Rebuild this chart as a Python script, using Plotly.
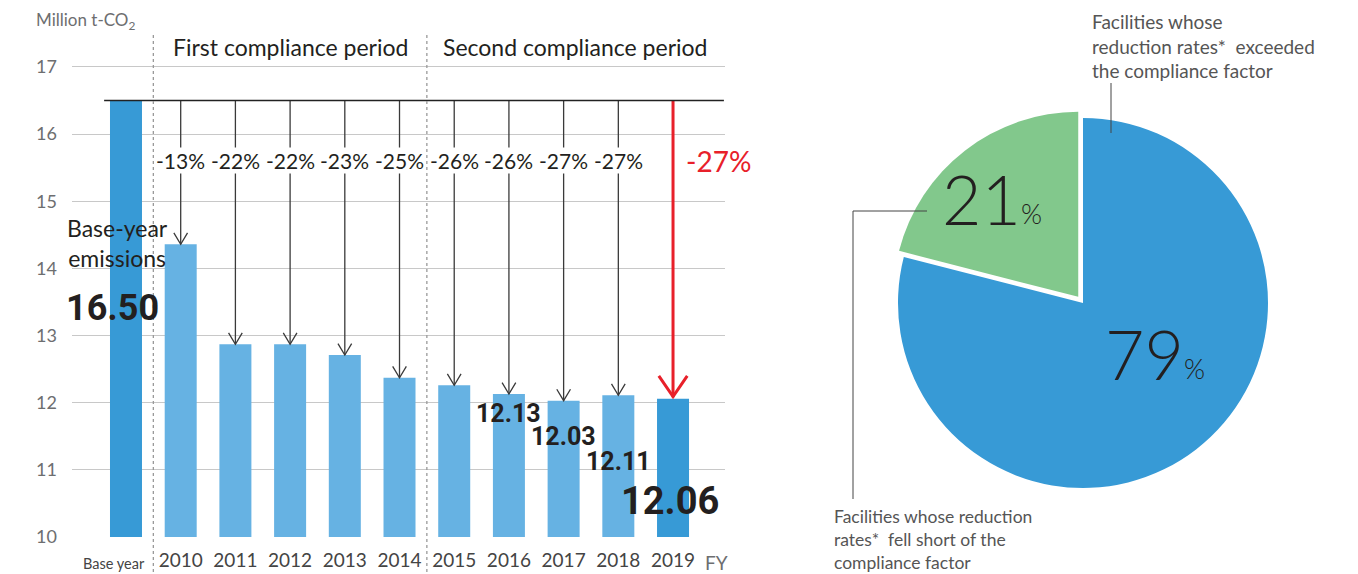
import plotly.graph_objects as go

# ---------------- data ----------------
categories = ["Base year", "2010", "2011", "2012", "2013", "2014",
              "2015", "2016", "2017", "2018", "2019"]
emissions = [16.50, 14.36, 12.87, 12.87, 12.71, 12.37,
             12.26, 12.13, 12.03, 12.11, 12.06]
reductions = ["-13%", "-22%", "-22%", "-23%", "-25%",
              "-26%", "-26%", "-27%", "-27%", "-27%"]
y_ticks = [10, 11, 12, 13, 14, 15, 16, 17]
labelled_values = {7: "12.13", 8: "12.03", 9: "12.11"}

pie_labels = ["Facilities whose reduction rates* exceeded the compliance factor",
              "Facilities whose reduction rates* fell short of the compliance factor"]
pie_values = [79, 21]

# ---------------- style ----------------
W, H = 1358, 574
DARK_BLUE = "#379ad6"
LIGHT_BLUE = "#66b2e3"
GREEN = "#82c88c"
RED = "#e8202a"
INK = "#231f20"
GRAY = "#6d6e70"
FONT = "Lato"

def px_x(p):
    return p / W

def px_y(p):
    return 1 - p / H

x_idx = list(range(len(categories)))
bar_colors = [DARK_BLUE if i in (0, len(categories) - 1) else LIGHT_BLUE for i in x_idx]

fig = go.Figure()

fig.add_trace(go.Bar(
    x=x_idx, y=[v - 10 for v in emissions], base=10, width=0.585,
    marker=dict(color=bar_colors, line=dict(width=0)),
    hoverinfo="skip", showlegend=False,
))

# arrows from base-year level down to each bar (2010-2018)
base = emissions[0]
ax, ay = [], []
dx, dy = 0.125, 0.17
for i in range(1, len(categories) - 1):
    v = emissions[i]
    ax += [i, i, None, i - dx, i, i + dx, None]
    ay += [base, v, None, v + dy, v, v + dy, None]
fig.add_trace(go.Scatter(x=ax, y=ay, mode="lines",
                         line=dict(color="#3a3a3a", width=1.3),
                         hoverinfo="skip", showlegend=False))

# red arrow for 2019
last = len(categories) - 1
v = emissions[last]
rdx, rdy = 0.26, 0.34
fig.add_trace(go.Scatter(
    x=[last, last, None, last - rdx, last, last + rdx],
    y=[base, v + 0.02, None, v + rdy, v + 0.03, v + rdy],
    mode="lines", line=dict(color=RED, width=3),
    hoverinfo="skip", showlegend=False))

# pie
pie_r = 185
pull = 0.042
half = pie_r * (1 + pull)
cx, cy = 1083, 303
fig.add_trace(go.Pie(
    labels=pie_labels, values=pie_values, sort=False, direction="clockwise",
    rotation=0, pull=[0, pull], textinfo="none", hoverinfo="label+percent",
    marker=dict(colors=[DARK_BLUE, GREEN], line=dict(width=0)),
    domain=dict(x=[px_x(cx - half), px_x(cx + half)],
                y=[px_y(cy + half), px_y(cy - half)]),
    showlegend=False,
))

annotations = []
# percentage reduction labels
for i, r in enumerate(reductions[:-1], start=1):
    annotations.append(dict(x=i, y=15.6, xref="x", yref="y", text=r, showarrow=False,
                            font=dict(family=FONT, size=21, color=INK),
                            bgcolor="white", borderpad=0))
annotations.append(dict(x=last + 0.2, y=15.6, xref="x", yref="y", text=reductions[-1],
                        showarrow=False, xanchor="left",
                        font=dict(family=FONT, size=28, color=RED)))

# base year labels
annotations.append(dict(x=-0.16, y=14.38, xref="x", yref="y",
                        text="Base-year<br>emissions", showarrow=False,
                        font=dict(family=FONT, size=23, color=INK)))
annotations.append(dict(x=-0.24, y=13.41, xref="x", yref="y",
                        text="<b>%.2f</b>" % emissions[0], showarrow=False,
                        font=dict(family="Roboto", size=36, color=INK)))
# value labels
label_y = {7: 11.84, 8: 11.49, 9: 11.12}
for i, t in labelled_values.items():
    annotations.append(dict(x=i, y=label_y[i], xref="x", yref="y", text="<b>%s</b>" % t,
                            showarrow=False,
                            font=dict(family="Roboto", size=25, color=INK)))
annotations.append(dict(x=last - 0.06, y=10.53, xref="x", yref="y",
                        text="<b>%.2f</b>" % emissions[last], showarrow=False,
                        font=dict(family="Roboto", size=38, color=INK)))

# period titles
annotations.append(dict(x=3.0, y=px_y(47), xref="x", yref="paper",
                        xanchor="center", yanchor="middle",
                        text="First compliance period", showarrow=False,
                        font=dict(family=FONT, size=23, color=INK)))
annotations.append(dict(x=8.2, y=px_y(47), xref="x", yref="paper",
                        xanchor="center", yanchor="middle",
                        text="Second compliance period", showarrow=False,
                        font=dict(family=FONT, size=23, color=INK)))
# unit
annotations.append(dict(x=px_x(34), y=px_y(21), xref="paper", yref="paper",
                        xanchor="left", yanchor="middle",
                        text="Million t-CO<sub>2</sub>", showarrow=False,
                        font=dict(family=FONT, size=17, color=GRAY)))
# "Base year" category label (smaller, sits left of the bar centre)
annotations.append(dict(x=px_x(114), y=px_y(563), xref="paper", yref="paper",
                        xanchor="center", yanchor="middle",
                        text=categories[0], showarrow=False,
                        font=dict(family=FONT, size=14.5, color="#444444")))
# FY
annotations.append(dict(x=px_x(716), y=px_y(562), xref="paper", yref="paper",
                        xanchor="center", yanchor="middle",
                        text="FY", showarrow=False,
                        font=dict(family=FONT, size=19, color=GRAY)))

# pie percentage labels (number and % sign as separate texts)
big = dict(family=FONT, size=68, color=INK, weight=300)
small = dict(family=FONT, size=27, color=INK, weight=300)
for num, right_x, base_y in (("%d" % pie_values[0], 1185, 380),
                             ("%d" % pie_values[1], 1022, 225)):
    annotations.append(dict(x=px_x(right_x), y=px_y(base_y + 15), xref="paper", yref="paper",
                            xanchor="right", yanchor="bottom", text=num, showarrow=False,
                            font=big, borderpad=0))
    annotations.append(dict(x=px_x(right_x - 2), y=px_y(base_y + 6), xref="paper", yref="paper",
                            xanchor="left", yanchor="bottom", text="%", showarrow=False,
                            font=small, borderpad=0))

annotations.append(dict(x=px_x(1090), y=px_y(8), xref="paper", yref="paper",
                        xanchor="left", yanchor="top", align="left",
                        text="Facilities whose<br>reduction rates*  exceeded<br>the compliance factor",
                        showarrow=False, font=dict(family=FONT, size=19, color="#555555")))
annotations.append(dict(x=px_x(832), y=px_y(504), xref="paper", yref="paper",
                        xanchor="left", yanchor="top", align="left",
                        text="Facilities whose reduction<br>rates*  fell short of the<br>compliance factor",
                        showarrow=False, font=dict(family=FONT, size=17.5, color="#555555")))

shapes = [
    # base-year level line
    dict(type="line", xref="x", yref="y", x0=-0.4, x1=10.93, y0=base, y1=base,
         line=dict(color="#222222", width=1.3)),
    # period dividers
    dict(type="line", xref="x", yref="paper", x0=0.5, x1=0.5, y0=px_y(572), y1=px_y(35),
         line=dict(color="#9a9a9a", width=1.3, dash="3px,3px")),
    dict(type="line", xref="x", yref="paper", x0=5.5, x1=5.5, y0=px_y(572), y1=px_y(35),
         line=dict(color="#9a9a9a", width=1.3, dash="3px,3px")),
    # pie callouts
    dict(type="line", xref="paper", yref="paper", x0=px_x(1111), x1=px_x(1111),
         y0=px_y(83), y1=px_y(133), line=dict(color="#444444", width=1)),
    dict(type="line", xref="paper", yref="paper", x0=px_x(853), x1=px_x(927),
         y0=px_y(211), y1=px_y(211), line=dict(color="#444444", width=1)),
    dict(type="line", xref="paper", yref="paper", x0=px_x(853), x1=px_x(853),
         y0=px_y(211), y1=px_y(499), line=dict(color="#444444", width=1)),
]

tick_text = [""] + categories[1:]

fig.update_layout(
    template="none",
    width=W, height=H, autosize=False,
    margin=dict(l=0, r=0, t=0, b=0, pad=0),
    paper_bgcolor="white", plot_bgcolor="white",
    font=dict(family=FONT, color=INK),
    bargap=0.4,
    xaxis=dict(domain=[px_x(72), px_x(725)], range=[-0.987, 10.95], automargin=False,
               tickvals=x_idx, ticktext=tick_text, showgrid=False, zeroline=False,
               showline=False, ticks="", ticklabelstandoff=10, tickangle=0,
               tickfont=dict(family=FONT, size=19, color="#444444")),
    yaxis=dict(domain=[px_y(537), px_y(30)], range=[10, 17.55], automargin=False,
               tickvals=y_ticks, showgrid=True, gridcolor="#c8c8c8", gridwidth=1,
               zeroline=False, showline=False, ticks="", ticklabelstandoff=14,
               tickfont=dict(family=FONT, size=18, color=GRAY)),
    annotations=annotations,
    shapes=shapes,
)

fig.write_html(
    "out.html",
    config={"displayModeBar": False},
    post_script="document.body.style.margin='0';document.body.style.overflow='hidden';",
)
